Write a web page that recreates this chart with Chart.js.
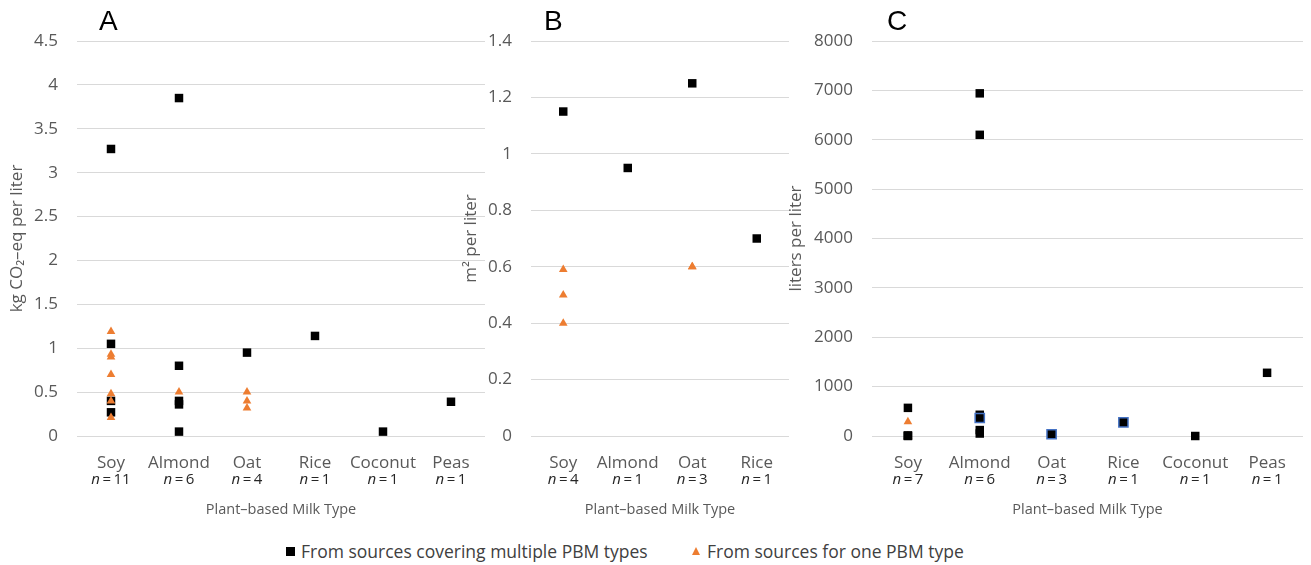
<!DOCTYPE html>
<html>
<head>
<meta charset="utf-8">
<script src="https://cdn.jsdelivr.net/npm/chart.js@4.4.1/dist/chart.umd.min.js"></script>
<style>
  body { margin: 0; background: #fff; }
  #wrap { position: relative; width: 1311px; height: 565px; overflow: hidden; font-family: "Open Sans", sans-serif; }
  canvas { position: absolute; top: 0; }
  .letter { position: absolute; top: 5px; font: 28px "Liberation Sans", Arial, sans-serif; color: #000; }
  .leg { position: absolute; top: 539px; font-size: 17.5px; color: #404040; white-space: nowrap; line-height: 24px; }
  .sq { position: absolute; top: 547px; width: 9px; height: 9px; background: #000; }
  .tri { position: absolute; top: 547px; width: 0; height: 0; border-left: 4px solid transparent; border-right: 4px solid transparent; border-bottom: 8px solid #ED7D31; }
</style>
</head>
<body>
<div id="wrap">
  <canvas id="chartA" width="491" height="525" style="left:0"></canvas>
  <canvas id="chartB" width="340" height="525" style="left:455px"></canvas>
  <canvas id="chartC" width="531" height="525" style="left:780px"></canvas>
  <div class="letter" style="left:99px">A</div>
  <div class="letter" style="left:544px">B</div>
  <div class="letter" style="left:887px">C</div>
  <span class="sq" style="left:286px"></span>
  <span class="leg" style="left:301px">From sources covering multiple PBM types</span>
  <span class="tri" style="left:692px"></span>
  <span class="leg" style="left:707px">From sources for one PBM type</span>
</div>
<script>
// ---- data ----
// A: carbon footprint, kg CO2-eq per liter
var catsA = ['Soy', 'Almond', 'Oat', 'Rice', 'Coconut', 'Peas'];
var countsA = [11, 6, 4, 1, 1, 1];
var multiA = {
  Soy: [3.27, 1.05, 0.40, 0.27],
  Almond: [3.85, 0.80, 0.40, 0.36, 0.05],
  Oat: [0.95],
  Rice: [1.14],
  Coconut: [0.05],
  Peas: [0.39]
};
var singleA = {
  Soy: [1.19, 0.93, 0.90, 0.70, 0.48, 0.40, 0.21],
  Almond: [0.50],
  Oat: [0.50, 0.40, 0.32]
};

// B: land use, m2 per liter
var catsB = ['Soy', 'Almond', 'Oat', 'Rice'];
var countsB = [4, 1, 3, 1];
var multiB = { Soy: [1.15], Almond: [0.95], Oat: [1.25], Rice: [0.70] };
var singleB = { Soy: [0.59, 0.50, 0.40], Oat: [0.60, 0.60] };

// C: water use, liters per liter
var catsC = ['Soy', 'Almond', 'Oat', 'Rice', 'Coconut', 'Peas'];
var countsC = [7, 6, 3, 1, 1, 1];
var multiC = {
  Soy: [570, 0, 5, 10],
  Almond: [6940, 6100, 430, 120, 50],
  Coconut: [0],
  Peas: [1280]
};
var multiOutlinedC = { Almond: [365], Oat: [35], Rice: [275] };
var singleC = { Soy: [290, 0, 0], Oat: [0, 0] };

// ---- helpers ----
function toPoints(obj) {
  var pts = [];
  Object.keys(obj).forEach(function(cat) {
    obj[cat].forEach(function(v) { pts.push({ x: cat, y: v }); });
  });
  return pts;
}

// "n = 11" under each category, italic n
var nLabels = {
  id: 'nLabels',
  afterDraw: function(chart, args, opts) {
    var ctx = chart.ctx, xs = chart.scales.x;
    ctx.save();
    ctx.fillStyle = '#262626';
    ctx.textBaseline = 'middle';
    ctx.textAlign = 'left';
    opts.counts.forEach(function(c, i) {
      var x = xs.getPixelForTick(i);
      ctx.font = 'italic 15px "Open Sans"';
      var w1 = ctx.measureText('n').width;
      ctx.font = '15px "Open Sans"';
      var rest = '\u2009=\u2009' + c;
      var w2 = ctx.measureText(rest).width;
      var left = x - (w1 + w2) / 2;
      ctx.font = 'italic 15px "Open Sans"';
      ctx.fillText('n', left, 480);
      ctx.font = '15px "Open Sans"';
      ctx.fillText(rest, left + w1, 480);
    });
    ctx.restore();
  }
};

function makePanel(id, cats, counts, datasets, yMax, yStep, yTitle, axisWidth, titlePad) {
  return new Chart(document.getElementById(id), {
    type: 'line',
    data: { labels: cats, datasets: datasets },
    plugins: [nLabels],
    options: {
      responsive: false,
      animation: false,
      layout: { padding: { top: 41, left: 0, right: 0, bottom: 0 } },
      plugins: { legend: { display: false }, tooltip: { enabled: false }, nLabels: { counts: counts } },
      datasets: { line: { showLine: false, clip: false } },
      scales: {
        x: {
          type: 'category',
          offset: true,
          grid: { display: false },
          border: { display: false },
          ticks: { color: '#595959', font: { family: 'Open Sans', size: 17 }, padding: 9, maxRotation: 0, autoSkip: false },
          title: { display: true, text: 'Plant\u2013based Milk Type', color: '#595959', font: { family: 'Open Sans', size: 14.5 }, padding: { top: 0, bottom: 6 } },
          afterFit: function(s) { s.height = 89; }
        },
        y: {
          min: 0,
          max: yMax,
          grid: { color: '#d9d9d9', drawTicks: false, lineWidth: 1 },
          border: { display: false },
          ticks: {
            stepSize: yStep,
            color: '#595959',
            padding: 19,
            font: { family: 'Open Sans', size: 17 },
            callback: function(v) { return String(Math.round(v * 100) / 100); }
          },
          title: { display: true, text: yTitle, color: '#595959', font: { family: 'Open Sans', size: 17 }, padding: { top: titlePad, bottom: 0 } },
          afterFit: function(s) { s.width = axisWidth; }
        }
      }
    }
  });
}

function multiSet(pts, order) {
  return { label: 'From sources covering multiple PBM types', data: pts, pointStyle: 'rect', pointRadius: 6,
    backgroundColor: '#000', borderColor: '#000', borderWidth: 0, order: order };
}
function singleSet(pts, order) {
  return { label: 'From sources for one PBM type', data: pts, pointStyle: 'triangle', pointRadius: 5,
    backgroundColor: '#ED7D31', borderColor: '#ED7D31', borderWidth: 0, order: order };
}

makePanel('chartA', catsA, countsA,
  [multiSet(toPoints(multiA), 1), singleSet(toPoints(singleA), 0)],
  4.5, 0.5, 'kg CO\u2082\u2013eq per liter', 77, 7);

makePanel('chartB', catsB, countsB,
  [multiSet(toPoints(multiB), 1), singleSet(toPoints(singleB), 0)],
  1.4, 0.2, 'm\u00b2 per liter', 76, 6);

var outlined = multiSet(toPoints(multiOutlinedC), 0);
outlined.borderColor = '#4472C4';
outlined.borderWidth = 1.5;
outlined.pointRadius = 6.5;
makePanel('chartC', catsC, countsC,
  [multiSet(toPoints(multiC), 1), outlined, singleSet(toPoints(singleC), 2)],
  8000, 1000, 'liters per liter', 92, 6);
</script>
</body>
</html>
